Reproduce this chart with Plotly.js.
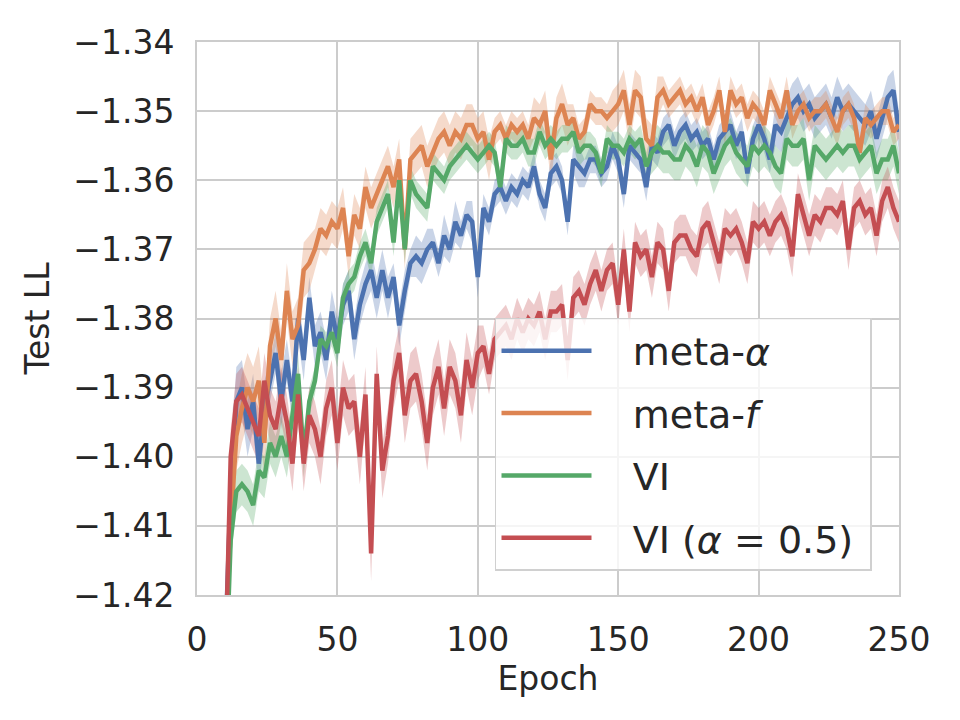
<!DOCTYPE html>
<html>
<head>
<meta charset="utf-8">
<script src="https://cdn.plot.ly/plotly-3.0.1.min.js"></script>
<style>
  body { margin: 0; background: #fff; }
  #plot { width: 960px; height: 720px; }
</style>
</head>
<body>
<div id="plot"></div>
<script>
// epochs 10, 12, ..., 250
var epochs = [];
for (var e = 10; e <= 250; e += 2) epochs.push(e);

var pad = '\u00a0\u00a0\u00a0';
var names = [pad + 'meta-<i>α</i>', pad + 'meta-<i>f</i>', pad + 'VI', pad + 'VI (<i>α</i> = 0.5)\u00a0'];
var colors = ['#4c72b0', '#dd8452', '#55a868', '#c44e52'];
var fills = ['rgba(76,114,176,0.3)', 'rgba(221,132,82,0.3)', 'rgba(85,168,104,0.3)', 'rgba(196,78,82,0.3)'];

var metaAlpha = [-1.428,-1.405,-1.392,-1.390,-1.396,-1.392,-1.401,-1.393,-1.389,-1.385,
  -1.392,-1.386,-1.392,-1.380,-1.386,-1.377,-1.384,-1.382,-1.386,-1.379,
  -1.383,-1.378,-1.376,-1.383,-1.378,-1.375,-1.373,-1.377,-1.373,-1.377,
  -1.374,-1.381,-1.376,-1.372,-1.371,-1.372,-1.370,-1.369,-1.372,-1.368,
  -1.370,-1.366,-1.368,-1.365,-1.366,-1.374,-1.364,-1.366,-1.362,-1.361,
  -1.363,-1.361,-1.362,-1.360,-1.361,-1.358,-1.362,-1.364,-1.359,-1.358,
  -1.360,-1.366,-1.357,-1.358,-1.359,-1.357,-1.357,-1.359,-1.358,-1.355,
  -1.357,-1.362,-1.355,-1.356,-1.357,-1.361,-1.355,-1.356,-1.353,-1.352,
  -1.355,-1.353,-1.352,-1.354,-1.353,-1.355,-1.354,-1.357,-1.354,-1.353,
  -1.352,-1.355,-1.353,-1.359,-1.354,-1.352,-1.354,-1.357,-1.352,-1.353,
  -1.351,-1.349,-1.348,-1.350,-1.349,-1.351,-1.350,-1.349,-1.351,-1.348,
  -1.350,-1.349,-1.350,-1.351,-1.352,-1.350,-1.354,-1.351,-1.348,-1.347,
  -1.353];
var metaF = [-1.430,-1.410,-1.397,-1.393,-1.390,-1.392,-1.389,-1.398,-1.384,-1.380,
  -1.386,-1.376,-1.383,-1.381,-1.373,-1.372,-1.370,-1.367,-1.368,-1.366,
  -1.367,-1.364,-1.371,-1.365,-1.367,-1.361,-1.364,-1.362,-1.360,-1.358,
  -1.361,-1.357,-1.370,-1.357,-1.356,-1.355,-1.358,-1.356,-1.354,-1.353,
  -1.355,-1.353,-1.354,-1.352,-1.352,-1.354,-1.353,-1.357,-1.353,-1.352,
  -1.354,-1.352,-1.353,-1.352,-1.354,-1.351,-1.352,-1.350,-1.357,-1.351,
  -1.349,-1.352,-1.351,-1.354,-1.353,-1.349,-1.350,-1.350,-1.351,-1.350,
  -1.349,-1.347,-1.352,-1.347,-1.348,-1.354,-1.355,-1.348,-1.347,-1.349,
  -1.348,-1.347,-1.349,-1.348,-1.350,-1.348,-1.352,-1.350,-1.347,-1.353,
  -1.347,-1.349,-1.348,-1.351,-1.349,-1.350,-1.352,-1.347,-1.349,-1.351,
  -1.347,-1.352,-1.350,-1.349,-1.351,-1.350,-1.350,-1.349,-1.351,-1.353,
  -1.350,-1.349,-1.351,-1.356,-1.351,-1.352,-1.351,-1.350,-1.350,-1.353,
  -1.352];
var vi = [-1.435,-1.412,-1.405,-1.404,-1.405,-1.407,-1.402,-1.403,-1.398,-1.400,
  -1.397,-1.400,-1.394,-1.388,-1.400,-1.392,-1.389,-1.383,-1.384,-1.382,
  -1.385,-1.377,-1.375,-1.374,-1.371,-1.369,-1.372,-1.366,-1.364,-1.362,
  -1.369,-1.360,-1.370,-1.360,-1.362,-1.363,-1.364,-1.358,-1.359,-1.360,
  -1.358,-1.357,-1.356,-1.355,-1.356,-1.357,-1.356,-1.355,-1.356,-1.361,
  -1.354,-1.355,-1.355,-1.354,-1.356,-1.356,-1.353,-1.355,-1.354,-1.355,
  -1.354,-1.354,-1.353,-1.356,-1.355,-1.355,-1.356,-1.359,-1.354,-1.355,
  -1.355,-1.356,-1.354,-1.355,-1.354,-1.358,-1.356,-1.355,-1.356,-1.356,
  -1.357,-1.357,-1.355,-1.356,-1.358,-1.355,-1.356,-1.359,-1.357,-1.355,
  -1.354,-1.356,-1.357,-1.358,-1.355,-1.356,-1.355,-1.356,-1.358,-1.359,
  -1.354,-1.355,-1.355,-1.354,-1.360,-1.355,-1.356,-1.357,-1.356,-1.355,
  -1.356,-1.355,-1.355,-1.357,-1.356,-1.355,-1.359,-1.357,-1.357,-1.355,
  -1.359];
var viHalf = [-1.432,-1.400,-1.392,-1.391,-1.393,-1.395,-1.397,-1.389,-1.394,-1.396,
  -1.391,-1.395,-1.401,-1.391,-1.401,-1.394,-1.396,-1.400,-1.393,-1.390,
  -1.398,-1.390,-1.393,-1.392,-1.400,-1.391,-1.414,-1.388,-1.402,-1.397,
  -1.389,-1.385,-1.394,-1.389,-1.388,-1.392,-1.398,-1.390,-1.387,-1.393,
  -1.387,-1.389,-1.394,-1.386,-1.390,-1.385,-1.384,-1.388,-1.383,-1.382,
  -1.381,-1.383,-1.380,-1.382,-1.380,-1.381,-1.379,-1.383,-1.379,-1.379,
  -1.378,-1.386,-1.377,-1.376,-1.378,-1.375,-1.373,-1.376,-1.373,-1.372,
  -1.378,-1.370,-1.379,-1.369,-1.371,-1.370,-1.374,-1.369,-1.370,-1.376,
  -1.369,-1.368,-1.368,-1.370,-1.371,-1.367,-1.366,-1.369,-1.372,-1.367,
  -1.368,-1.367,-1.369,-1.372,-1.366,-1.367,-1.366,-1.368,-1.366,-1.365,
  -1.367,-1.371,-1.362,-1.365,-1.368,-1.365,-1.366,-1.364,-1.364,-1.365,
  -1.363,-1.370,-1.364,-1.363,-1.365,-1.364,-1.368,-1.363,-1.361,-1.364,
  -1.366];

// band half-widths, in units of 0.001
var metaAlphaSd = [4,5,5,4,4,4,4,4,3,3,4,3,3,3,3,3,
  3,3,3,3,3,3,3,3,3,3, 3,3,3,3,2,3,3,2,3,3, 3,2,2,3,2,3,2,2,3,3,
  2,2,2,2,2,2,2,2,2,2, 2,2,2,2,2,2,2,3,2,2, 2,2,2,2,2,2,2,2,2,2,
  2,2,2,2,2,2,2,2,2,2, 2,2,2,2,2,2,2,2,2,2, 2,2,3,3,3,3,3,3,3,3,
  3,3,3,3,3,3,3,3,3,3,3,3,3,3,3];
var metaFSd = [4,5,5,5,5,5,5,5,4,4,4,4,4,4,4,4,
  3,3,3,3,3,3,3,3,3,3, 3,3,3,3,3,3,3,3,3,3, 3,3,3,3,3,3,3,3,3,3,
  3,3,2,2,2,2,2,2,2,3, 3,3,3,3,3,3,2,2,2,2, 2,2,2,3,3,3,3,3,3,3,
  3,3,2,2,2,2,2,2,2,2, 2,2,2,2,2,2,2,2,2,2, 2,2,2,2,2,2,2,2,2,2,
  2,2,2,2,2,2,2,2,2,2,2,2,2,2,2];
var viSd = [3,3,3,3,3,3,3,3,3,3,3,3,3,3,3,2,
  2,2,2,2,2,2,2,2,2,2, 2,2,2,2,2,2,2,2,2,2, 2,2,2,2,2,2,2,2,2,2,
  2,2,2,2,2,2,2,2,2,2, 2,2,2,2,2,2,2,2,2,2, 2,2,2,2,2,2,2,2,2,2,
  3,3,3,3,3,3,3,3,3,3, 3,3,3,3,3,3,3,3,3,3, 3,3,3,3,3,3,3,3,3,3,
  3,3,3,3,3,3,3,3,3,3,3,3,3,3,3];
var viHalfSd = [4,4,4,4,4,4,4,4,4,4,4,4,4,4,4,4,
  4,4,4,4,4,4,4,4,4,4, 4,4,4,4,4,4,4,4,4,4, 4,4,4,4,4,4,4,4,4,4,
  3,3,3,3,3,3,3,3,3,3, 3,3,3,3,3,3,3,3,3,3, 3,3,3,3,3,3,3,3,3,3,
  3,3,3,3,3,3,3,3,3,3, 3,3,3,3,3,3,3,3,3,3, 3,3,3,3,3,3,3,3,3,3,
  3,3,3,3,3,3,3,3,3,3,3,3,3,3,3];

var means = [metaAlpha, metaF, vi, viHalf];
var sds = [metaAlphaSd, metaFSd, viSd, viHalfSd];

var traces = [];
for (var i = 0; i < means.length; i++) {
  var lo = [], hi = [];
  for (var j = 0; j < epochs.length; j++) {
    lo.push(means[i][j] - sds[i][j] / 1000);
    hi.push(means[i][j] + sds[i][j] / 1000);
  }
  traces.push({x: epochs, y: lo, mode: 'lines', line: {width: 0}, showlegend: false, hoverinfo: 'skip'});
  traces.push({x: epochs, y: hi, mode: 'lines', line: {width: 0}, fill: 'tonexty',
    fillcolor: fills[i], showlegend: false, hoverinfo: 'skip'});
}
for (var i = 0; i < means.length; i++) {
  traces.push({x: epochs, y: means[i], mode: 'lines', name: names[i], legendgroup: 'g' + i,
    line: {color: colors[i], width: 4.5}});
}

var axisStyle = {
  showgrid: true, gridcolor: '#cccccc', gridwidth: 1.5,
  showline: true, linecolor: '#cccccc', linewidth: 2, mirror: true,
  zeroline: false, ticks: '', ticklabelstandoff: 14,
  tickfont: {family: 'DejaVu Sans', size: 33, color: '#262626'}
};

var layout = {
  width: 960, height: 720,
  margin: {l: 197, r: 61, t: 42, b: 125},
  paper_bgcolor: '#fff', plot_bgcolor: '#fff',
  font: {family: 'DejaVu Sans', color: '#262626'},
  xaxis: Object.assign({}, axisStyle, {
    range: [0, 250], dtick: 50, tick0: 0,
    title: {text: 'Epoch', font: {size: 33, color: '#262626'}, standoff: 0}
  }),
  yaxis: Object.assign({}, axisStyle, {
    range: [-1.42, -1.34], dtick: 0.01, tick0: -1.42, tickformat: '.2f',
    title: {text: 'Test LL', font: {size: 33, color: '#262626'}, standoff: 14}
  }),
  showlegend: true,
  legend: {
    x: 0.4245, y: 0.501, xanchor: 'left', yanchor: 'top',
    bgcolor: 'rgba(255,255,255,0.8)', bordercolor: '#d0d0d0', borderwidth: 1.5,
    font: {family: 'DejaVu Sans', size: 38, color: '#262626'},
    itemwidth: 90, traceorder: 'grouped', tracegroupgap: 10
  }
};

Plotly.newPlot('plot', traces, layout, {displayModeBar: false});
</script>
</body>
</html>
